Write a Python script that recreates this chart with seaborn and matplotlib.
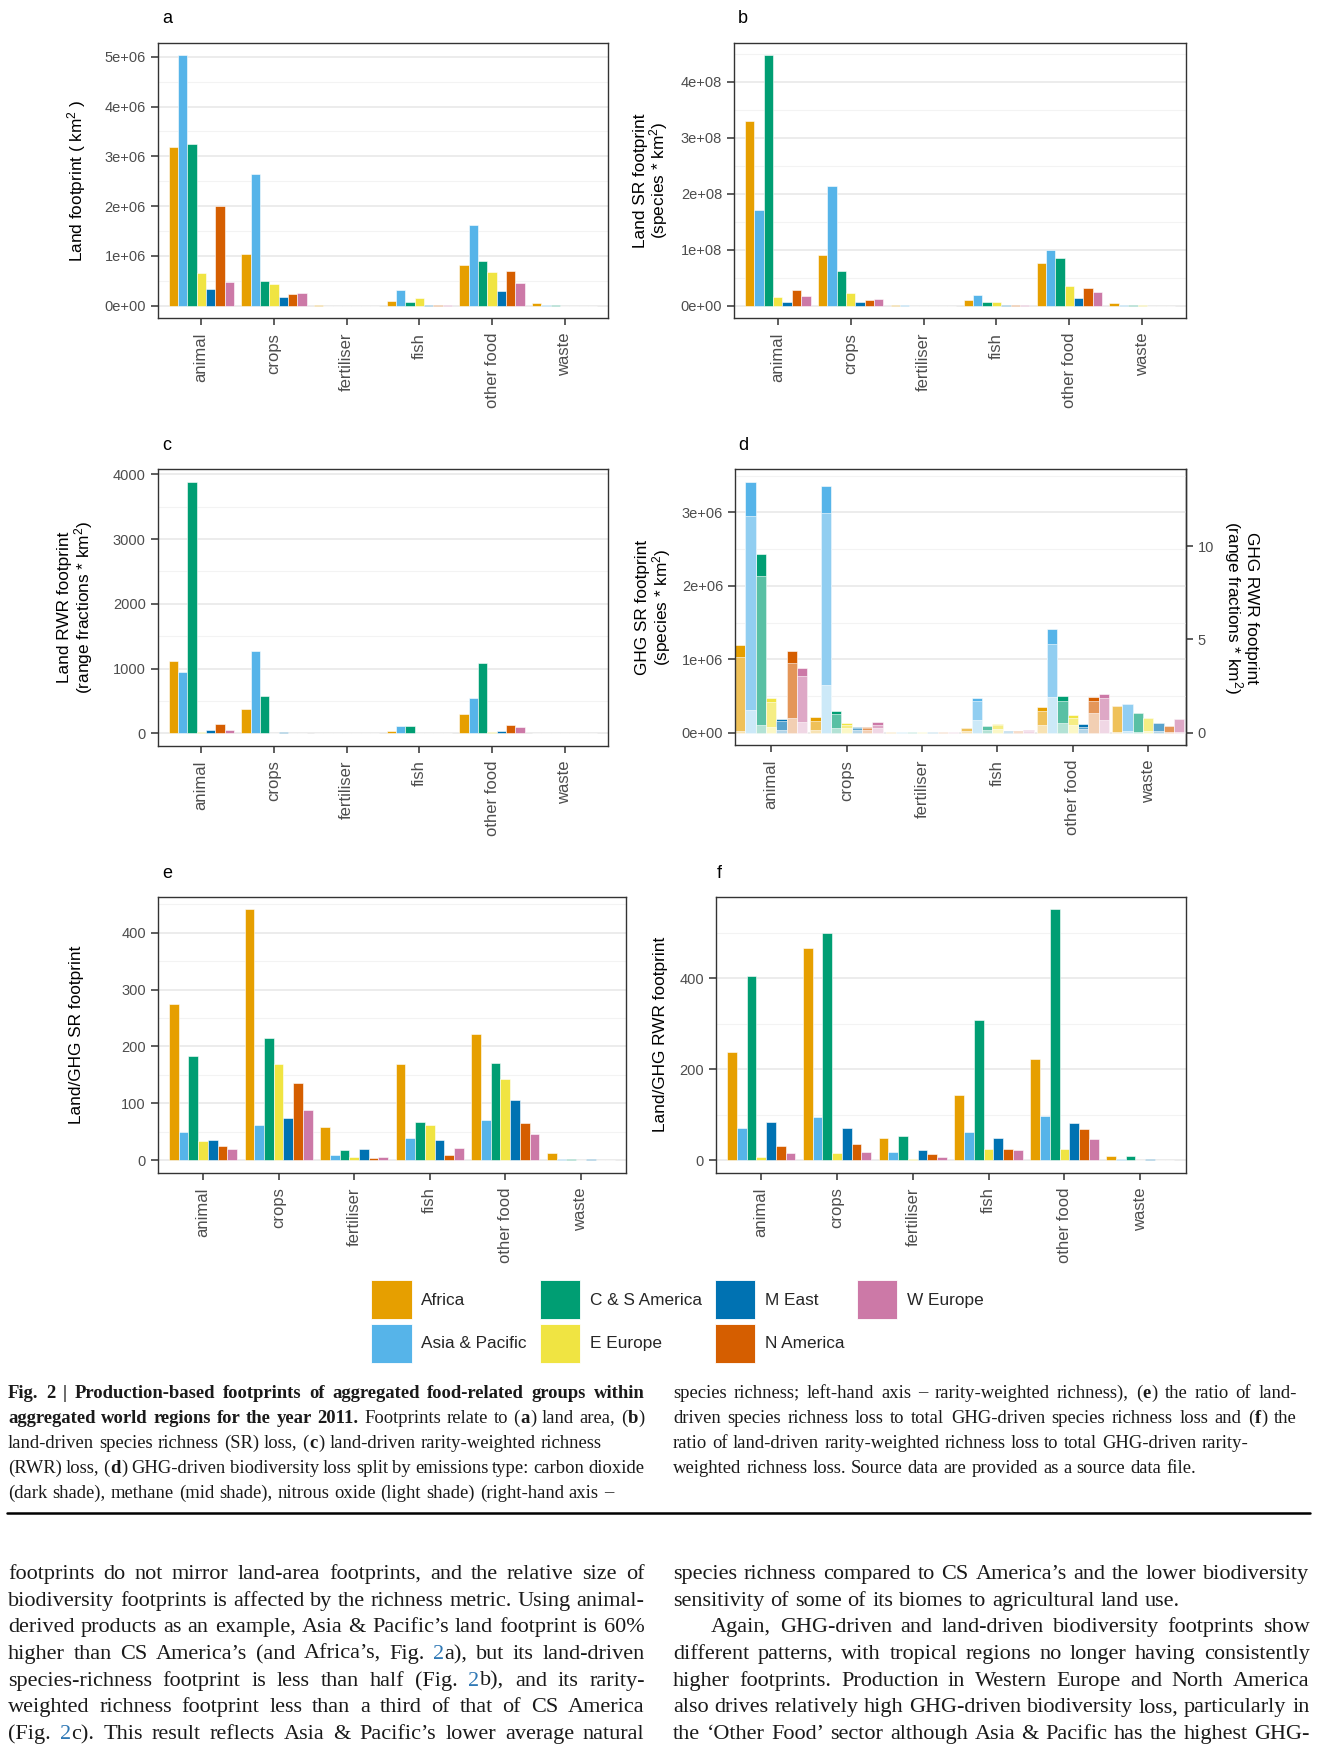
import numpy as np
import pandas as pd
import matplotlib
matplotlib.use("Agg")
import matplotlib.pyplot as plt
import seaborn as sb
from matplotlib.patches import Patch
from matplotlib.lines import Line2D
from matplotlib.ticker import MultipleLocator, FuncFormatter
from matplotlib.colors import to_rgb

# figure size in pixels (dpi 100)
W, H = 1336, 1750

groups = ["animal", "crops", "fertiliser", "fish", "other food", "waste"]
regions = ["Africa", "Asia & Pacific", "C & S America", "E Europe", "M East", "N America", "W Europe"]
region_colors = ["#E69F00", "#56B4E9", "#009E73", "#F0E442", "#0072B2", "#D55E00", "#CC79A7"]

# rows = groups, columns = regions
land_area = [  # km2
    [3.19e6, 5.03e6, 3.24e6, 0.665e6, 0.346e6, 1.995e6, 0.479e6],
    [1.044e6, 2.64e6, 0.499e6, 0.445e6, 0.18e6, 0.233e6, 0.266e6],
    [6e3, 5e3, 4e3, 4e3, 3e3, 3e3, 3e3],
    [0.093e6, 0.312e6, 0.066e6, 0.153e6, 0.02e6, 0.013e6, 0.02e6],
    [0.811e6, 1.63e6, 0.89e6, 0.685e6, 0.293e6, 0.69e6, 0.465e6],
    [0.047e6, 0.013e6, 0.01e6, 5e3, 4e3, 4e3, 4e3],
]
land_sr = [
    [3.29e8, 1.71e8, 4.47e8, 0.165e8, 0.059e8, 0.283e8, 0.177e8],
    [0.914e8, 2.136e8, 0.625e8, 0.224e8, 0.059e8, 0.10e8, 0.124e8],
    [0.01e8, 0.005e8, 0.004e8, 0.004e8, 0.003e8, 0.003e8, 0.003e8],
    [0.10e8, 0.189e8, 0.059e8, 0.059e8, 0.012e8, 0.006e8, 0.012e8],
    [0.767e8, 0.991e8, 0.855e8, 0.348e8, 0.13e8, 0.324e8, 0.254e8],
    [0.047e8, 0.012e8, 0.018e8, 0.005e8, 0.004e8, 0.004e8, 0.004e8],
]
land_rwr = [
    [1121, 951, 3882, 15, 57, 144, 57],
    [380, 1275, 571, 10, 26, 10, 10],
    [3, 3, 3, 3, 3, 3, 3],
    [31, 118, 113, 10, 10, 5, 5],
    [303, 540, 1080, 26, 36, 134, 103],
    [10, 5, 10, 2, 2, 2, 2],
]
# GHG-driven SR loss (millions), split by gas
ghg_n2o = [
    [0.023, 0.312, 0.104, 0.082, 0.037, 0.200, 0.145],
    [0.037, 0.647, 0.068, 0.070, 0.033, 0.040, 0.068],
    [0.008, 0.015, 0.004, 0.008, 0.004, 0.004, 0.004],
    [0.020, 0.172, 0.036, 0.054, 0.012, 0.012, 0.020],
    [0.104, 0.489, 0.127, 0.104, 0.050, 0.267, 0.176],
    [0.005, 0.020, 0.005, 0.020, 0.020, 0.005, 0.010],
]
ghg_ch4 = [
    [1.008, 2.642, 2.036, 0.339, 0.122, 0.746, 0.629],
    [0.126, 2.343, 0.186, 0.034, 0.027, 0.020, 0.036],
    [0, 0, 0, 0, 0, 0, 0],
    [0.043, 0.258, 0.054, 0.050, 0.015, 0.015, 0.012],
    [0.190, 0.714, 0.303, 0.100, 0.032, 0.163, 0.299],
    [0.362, 0.365, 0.258, 0.180, 0.111, 0.090, 0.176],
]
ghg_co2 = [
    [0.163, 0.461, 0.294, 0.050, 0.022, 0.167, 0.104],
    [0.046, 0.375, 0.040, 0.027, 0.022, 0.022, 0.041],
    [0, 0, 0, 0, 0, 0, 0],
    [0, 0.041, 0.005, 0.009, 0, 0, 0],
    [0.055, 0.204, 0.068, 0.036, 0.036, 0.054, 0.050],
    [0, 0, 0, 0, 0, 0, 0],
]
ratio_sr = [
    [275, 49.7, 182.5, 34.5, 36.3, 25.7, 20.5],
    [441.5, 62.6, 215.8, 169, 74.9, 136.3, 87.7],
    [58.5, 9.9, 17.5, 5.8, 19.9, 4.1, 6.4],
    [169, 39.2, 67.8, 62, 35.1, 8.2, 22.2],
    [221.6, 70.2, 171.3, 143.3, 106.4, 64.9, 46.8],
    [12.3, 1.2, 2.3, 0.6, 1.2, 0.5, 0.5],
]
ratio_rwr = [
    [237.7, 70.9, 404.4, 5.9, 84.1, 32.2, 16.8],
    [465.8, 95.8, 500.2, 16.1, 71.7, 36.6, 19.0],
    [49.0, 17.6, 53.4, 2.2, 22.7, 13.2, 8.0],
    [143.3, 62.2, 308.6, 24.9, 49.0, 24.9, 22.7],
    [223.0, 97.3, 552.0, 24.1, 81.9, 69.5, 47.5],
    [10.2, 2.2, 10.2, 0.5, 1.5, 0.5, 0.5],
]

cap_left = [
    "*Fig. 2 | Production-based footprints of aggregated food-related groups within*",
    "*aggregated world regions for the year 2011.* Footprints relate to (*a*) land area, (*b*)",
    "land-driven species richness (SR) loss, (*c*) land-driven rarity-weighted richness",
    "(RWR) loss, (*d*) GHG-driven biodiversity loss split by emissions type: carbon dioxide",
    "(dark shade), methane (mid shade), nitrous oxide (light shade) (right-hand axis –",
]
cap_right = [
    "species richness; left-hand axis – rarity-weighted richness), (*e*) the ratio of land-",
    "driven species richness loss to total GHG-driven species richness loss and (*f*) the",
    "ratio of land-driven rarity-weighted richness loss to total GHG-driven rarity-",
    "weighted richness loss. Source data are provided as a source data file.",
]
body_left = [
    "footprints do not mirror land-area footprints, and the relative size of",
    "biodiversity footprints is affected by the richness metric. Using animal-",
    "derived products as an example, Asia & Pacific’s land footprint is 60%",
    "higher than CS America’s (and Africa’s, Fig. #2#a), but its land-driven",
    "species-richness footprint is less than half (Fig. #2#b), and its rarity-",
    "weighted richness footprint less than a third of that of CS America",
    "(Fig. #2#c). This result reflects Asia & Pacific’s lower average natural",
]
body_right = [
    "species richness compared to CS America’s and the lower biodiversity",
    "sensitivity of some of its biomes to agricultural land use.",
    "Again, GHG-driven and land-driven biodiversity footprints show",
    "different patterns, with tropical regions no longer having consistently",
    "higher footprints. Production in Western Europe and North America",
    "also drives relatively high GHG-driven biodiversity loss, particularly in",
    "the ‘Other Food’ sector although Asia & Pacific has the highest GHG-",
]


def long_df(rows, scale=1.0):
    recs = []
    for g, vals in zip(groups, rows):
        for r, v in zip(regions, vals):
            recs.append({"group": g, "region": r, "value": v * scale})
    return pd.DataFrame(recs)


def shade(c, frac):
    rgb = np.array(to_rgb(c))
    return tuple(frac * rgb + (1 - frac) * np.ones(3))


sb.set_theme(style="white")
plt.rcParams["font.family"] = ["Liberation Sans", "DejaVu Sans"]
plt.rcParams["mathtext.fontset"] = "custom"
plt.rcParams["mathtext.rm"] = "Liberation Sans"
plt.rcParams["mathtext.it"] = "Liberation Sans:italic"

fig = plt.figure(figsize=(W / 100, H / 100), dpi=100)
pal = dict(zip(regions, region_colors))


def add_ax(left, right, top, bottom):
    return fig.add_axes([left / W, 1 - bottom / H, (right - left) / W, (bottom - top) / H])


def sci(v, pos):
    return format(v, ".0e")


def style_ax(ax, ymax, major, minor, fmt=None, xlim=(-0.6, 5.6)):
    ax.set_xlim(*xlim)
    ax.set_ylim(-0.05 * ymax, 1.05 * ymax)
    ax.yaxis.set_major_locator(MultipleLocator(major))
    ax.yaxis.set_minor_locator(MultipleLocator(minor))
    if fmt is not None:
        ax.yaxis.set_major_formatter(FuncFormatter(fmt))
    ax.grid(False)
    ax.yaxis.grid(True, which="major", color="#EBEBEB", lw=1.3)
    ax.yaxis.grid(True, which="minor", color="#F3F3F3", lw=0.8)
    ax.set_axisbelow(True)
    for s in ax.spines.values():
        s.set_visible(True)
        s.set_color("#333333")
        s.set_linewidth(1.0)
    ax.tick_params(axis="both", which="major", length=5, width=1.1, color="#333333",
                   labelcolor="#4D4D4D", left=True, bottom=True)
    ax.tick_params(axis="x", labelrotation=90, labelsize=12, pad=5.5)
    ax.tick_params(axis="y", labelsize=10.5, pad=3.5)
    ax.tick_params(which="minor", length=0)
    ax.set_xlabel("")
    ax.set_ylabel("")


def bar_panel(ax, rows):
    df = long_df(rows)
    sb.barplot(data=df, x="group", y="value", hue="region", order=groups, hue_order=regions,
               palette=pal, width=0.9, errorbar=None, saturation=1, legend=False,
               edgecolor="white", linewidth=0.4, ax=ax)
    return df["value"].max()


# panel a
ax_a = add_ax(157.6, 608.4, 42.7, 318.3)
m = bar_panel(ax_a, land_area)
style_ax(ax_a, m, 1e6, 5e5, sci)

# panel b
ax_b = add_ax(734, 1186, 42.7, 318.3)
m = bar_panel(ax_b, land_sr)
style_ax(ax_b, m, 1e8, 5e7, sci)

# panel c
ax_c = add_ax(157.6, 608.4, 469.3, 746)
m = bar_panel(ax_c, land_rwr)
style_ax(ax_c, m, 1000, 500)

# panel d: stacked by gas (light = N2O, mid = CH4, dark = CO2)
ax_d = add_ax(735, 1186, 469.3, 745.3)
d_n2o = long_df(ghg_n2o, 1e6)
d_mid = long_df(np.array(ghg_n2o) + np.array(ghg_ch4), 1e6)
d_tot = long_df(np.array(ghg_n2o) + np.array(ghg_ch4) + np.array(ghg_co2), 1e6)
for dframe, frac in [(d_tot, 1.0), (d_mid, 0.65), (d_n2o, 0.3)]:
    sb.barplot(data=dframe, x="group", y="value", hue="region", order=groups, hue_order=regions,
               palette={r: shade(c, frac) for r, c in pal.items()}, width=0.96, errorbar=None,
               saturation=1, legend=False, edgecolor="white", linewidth=0.4, ax=ax_d)
style_ax(ax_d, d_tot["value"].max(), 1e6, 5e5, sci, xlim=(-0.48, 5.5))
sec = ax_d.secondary_yaxis("right", functions=(lambda y: y / 254000, lambda y: y * 254000))
sec.set_yticks([0, 5, 10])
sec.tick_params(length=5, width=1.1, color="#333333", labelcolor="#4D4D4D", labelsize=10.5, pad=3.5)
sec.spines["right"].set_color("#333333")
sec.spines["right"].set_linewidth(1.0)

# panel e
ax_e = add_ax(157.6, 626.3, 896.7, 1172.7)
m = bar_panel(ax_e, ratio_sr)
style_ax(ax_e, m, 100, 50)

# panel f
ax_f = add_ax(715.7, 1185.7, 896.7, 1172.7)
m = bar_panel(ax_f, ratio_rwr)
style_ax(ax_f, m, 200, 100)

# axis titles
def ytitle(x, y, txt, rot=90):
    fig.text(x / W, 1 - y / H, txt, rotation=rot, ha="center", va="center",
             multialignment="center", fontsize=12.4, color="black", linespacing=0.95)

ytitle(76.7, 180.5, "Land footprint ( km$^2$ )")
ytitle(651.5, 180.5, "Land SR footprint\n(species * km$^2$)")
ytitle(76.0, 607.6, "Land RWR footprint\n(range fractions * km$^2$)")
ytitle(654.0, 607.6, "GHG SR footprint\n(species * km$^2$)")
ytitle(1240.5, 607.6, "GHG RWR footprint\n(range fractions * km$^2$)", rot=270)
ytitle(76.7, 1034.7, "Land/GHG SR footprint")
ytitle(660.0, 1034.7, "Land/GHG RWR footprint")

for lab, x, y in [("a", 162, 18.3), ("b", 738, 18.3), ("c", 162, 445), ("d", 738.5, 445),
                  ("e", 162, 873), ("f", 717, 873)]:
    fig.text(x / W, 1 - y / H, lab, fontsize=13, ha="left", va="center", color="black")

# legend
handles = [Patch(facecolor=c, edgecolor="white", linewidth=0.6) for c in region_colors]
fig.legend(handles, regions, ncol=4, loc="upper left", bbox_to_anchor=(371.4 / W, 1 - 1280 / H),
           frameon=False, fontsize=12.4, handlelength=2.35, handleheight=3.15, handletextpad=0.55,
           columnspacing=0.75, labelspacing=0.24, borderpad=0, borderaxespad=0)

# caption and body text, word by word so lines can be justified
renderer = fig.canvas.get_renderer()
SERIF = ["Liberation Serif", "DejaVu Serif"]


def parse(line):
    words, cur, buf = [], [], ""
    bold = blue = False
    for ch in line:
        if ch in "*# ":
            if buf:
                cur.append((buf, bold, blue))
                buf = ""
            if ch == "*":
                bold = not bold
            elif ch == "#":
                blue = not blue
            elif cur:
                words.append(cur)
                cur = []
        else:
            buf += ch
    if buf:
        cur.append((buf, bold, blue))
    if cur:
        words.append(cur)
    return words


def text_w(txt, size, bold):
    t = fig.text(0, 0, txt, fontsize=size, family=SERIF, fontweight="bold" if bold else "normal")
    w = t.get_window_extent(renderer).width
    t.remove()
    return w


def natural_width(line, size, space_em):
    words = parse(line)
    px = size * 100 / 72
    total = sum(text_w(txt, size, b) + 0.4 for w in words for txt, b, _ in w)
    return total + (len(words) - 1) * space_em * px


def fit_size(specs, size0, smax, space_em):
    # largest size at which every justified line still has at least the minimum space
    best = smax
    for line, x0, width in specs:
        if width is not None:
            best = min(best, size0 * width / natural_width(line, size0, space_em))
    return best


def put_line(line, x0, yc, size, width=None):
    px = size * 100 / 72
    base = yc + 0.27 * px
    items, total = [], 0
    for w in parse(line):
        runs = []
        for txt, bold, blue in w:
            t = fig.text(0, 1 - base / H, txt, fontsize=size, family=SERIF,
                         fontweight="bold" if bold else "normal",
                         color="#2F78B5" if blue else "#1A1A1A", va="baseline", ha="left")
            wd = t.get_window_extent(renderer).width
            runs.append((t, wd))
            total += wd + 0.4
        items.append(runs)
    space = 0.25 * px
    if width is not None and len(items) > 1:
        space = (width - total) / (len(items) - 1)
    x = x0
    for runs in items:
        for t, wd in runs:
            t.set_x(x / W)
            x += wd + 0.4
        x += space


cap_specs = [(l, 8, 637 if i in (0, 1, 3) else None) for i, l in enumerate(cap_left)]
cap_specs += [(l, 673, 624 if i in (0, 1) else None) for i, l in enumerate(cap_right)]
cap_size = fit_size(cap_specs, 12, 14, 0.2)
for i, line in enumerate(cap_left):
    put_line(line, 8, 1392.5 + 25 * i, cap_size, cap_specs[i][2])
for i, line in enumerate(cap_right):
    put_line(line, 673, 1392.5 + 25 * i, cap_size, cap_specs[5 + i][2])

fig.add_artist(Line2D([7 / W, 1310 / W], [1 - 1512.7 / H] * 2, color="black", lw=1.8,
                      transform=fig.transFigure))

body_specs = [(l, 8, 637) for l in body_left]
body_specs += [(body_right[0], 673, 637), (body_right[2], 711, 599)]
body_specs += [(l, 673, 637) for l in body_right[3:]]
body_size = fit_size(body_specs, 13, 16, 0.2)
for i, line in enumerate(body_left):
    put_line(line, 8, 1573 + 26.67 * i, body_size, 637)
for i, line in enumerate(body_right):
    if i == 1:
        put_line(line, 673, 1573 + 26.67 * i, body_size)
    elif i == 2:
        put_line(line, 711, 1573 + 26.67 * i, body_size, 599)
    else:
        put_line(line, 673, 1573 + 26.67 * i, body_size, 637)

fig.savefig("out.png", dpi=100)
